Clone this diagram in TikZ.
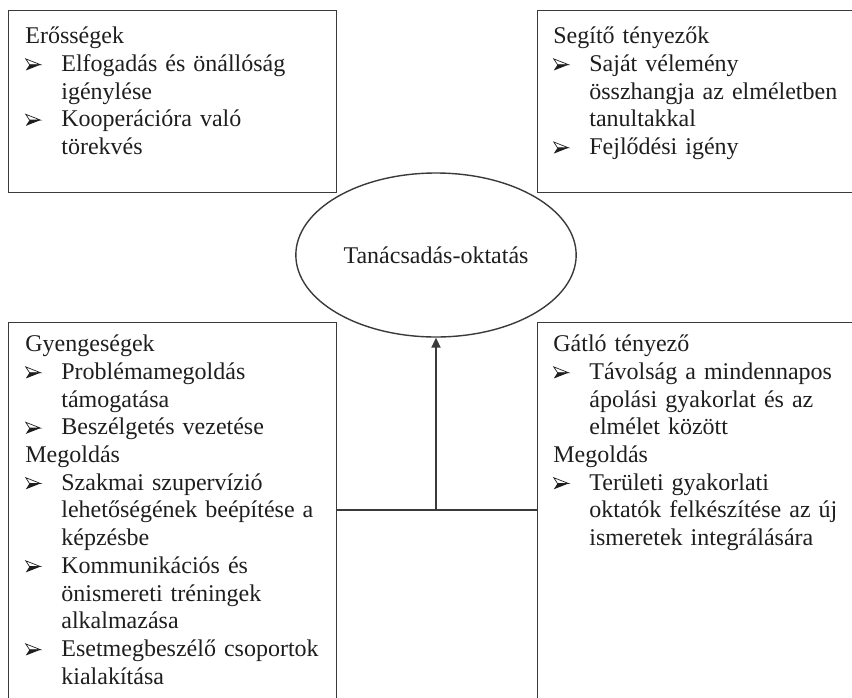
\documentclass[tikz,border=0pt]{standalone}
\usepackage{fontspec}
\setmainfont{Liberation Serif}
\usetikzlibrary{arrows.meta,positioning,shapes.geometric}
\definecolor{KeretSzurke}{HTML}{3A3A3A}
\definecolor{SzovegFekete}{HTML}{1E1E1E}
\setlength{\parindent}{0pt}
% felsorolas-pont nyilhegy jellel
\newsavebox{\nyilbox}
\newcommand{\pont}[1]{\par\hangindent=18pt\hangafter=1\noindent
  \makebox[18pt][l]{\usebox{\nyilbox}}#1}

\begin{document}
\sbox{\nyilbox}{\begin{pgfpicture}
    \pgfsetbaseline{-3.4pt}
    \pgfsetcolor{SzovegFekete}
    \pgfsetlinewidth{0.35pt}
    \pgfpathmoveto{\pgfpoint{0pt}{2.9pt}}
    \pgfpathlineto{\pgfpoint{7.4pt}{0pt}}
    \pgfpathlineto{\pgfpoint{1.9pt}{0pt}}
    \pgfpathclose
    \pgfusepath{stroke}
    \pgfpathmoveto{\pgfpoint{1.9pt}{0pt}}
    \pgfpathlineto{\pgfpoint{7.4pt}{0pt}}
    \pgfpathlineto{\pgfpoint{0pt}{-2.9pt}}
    \pgfpathclose
    \pgfusepath{fill}
  \end{pgfpicture}}
\begin{tikzpicture}[x=0.5pt,y=-0.5pt,
    doboz/.style={draw=KeretSzurke,line width=0.7pt,anchor=north west,inner sep=0pt},
    szoveg/.style={anchor=north west,inner sep=0pt,text width=165pt,align=left,
      text=SzovegFekete,font=\fontsize{12}{13.85}\selectfont},
    vonal/.style={draw=KeretSzurke,line width=1pt},
    nyil/.style={vonal,-{Triangle[length=5pt,width=4.5pt]}}]
  \useasboundingbox (0,0) rectangle (852,697);
  \clip (0,0) rectangle (852,697);
  % negy doboz
  \node[doboz,minimum width=164pt,minimum height=91pt] (eros) at (8,10) {};
  \node[doboz,minimum width=200pt,minimum height=91pt] (segito) at (537,10) {};
  \node[doboz,minimum width=164pt,minimum height=200pt] (gyenge) at (8,322) {};
  \node[doboz,minimum width=200pt,minimum height=200pt] (gatlo) at (537,322) {};
  % kozepso ellipszis
  \node[ellipse,draw=KeretSzurke,line width=0.7pt,minimum width=136pt,minimum height=82pt,
    text=SzovegFekete,font=\fontsize{12}{13.85}\selectfont] (tanacs) at (436,255)
    {Tanácsadás-oktatás};
  % szovegek
  \node[szoveg] (erosszoveg) at ([shift={(17,14)}]eros.north west)
    {\strut Erősségek
     \pont{Elfogadás és önállóság\newline igénylése}
     \pont{Kooperációra való\newline törekvés}\par};
  \node[szoveg] (segitoszoveg) at ([shift={(16,14)}]segito.north west)
    {\strut Segítő tényezők
     \pont{Saját vélemény\newline összhangja az elméletben\newline tanultakkal}
     \pont{Fejlődési igény}\par};
  \node[szoveg] (gyengeszoveg) at ([shift={(17,10)}]gyenge.north west)
    {\strut Gyengeségek
     \pont{Problémamegoldás\newline támogatása}
     \pont{Beszélgetés vezetése}
     \par Megoldás
     \pont{Szakmai szupervízió\newline lehetőségének beépítése a\newline képzésbe}
     \pont{Kommunikációs és\newline önismereti tréningek\newline alkalmazása}
     \pont{Esetmegbeszélő csoportok\newline kialakítása}\par};
  \node[szoveg] (gatloszoveg) at ([shift={(16,10)}]gatlo.north west)
    {\strut Gátló tényező
     \pont{Távolság a mindennapos\newline ápolási gyakorlat és az\newline elmélet között}
     \par Megoldás
     \pont{Területi gyakorlati\newline oktatók felkészítése az új\newline ismeretek integrálására}\par};
  % osszekotes
  \coordinate (elagazas) at (436,510);
  \draw[vonal] (gyenge.east |- elagazas) -- (gatlo.west |- elagazas);
  \draw[nyil] (elagazas) -- (tanacs.south);
\end{tikzpicture}
\end{document}
